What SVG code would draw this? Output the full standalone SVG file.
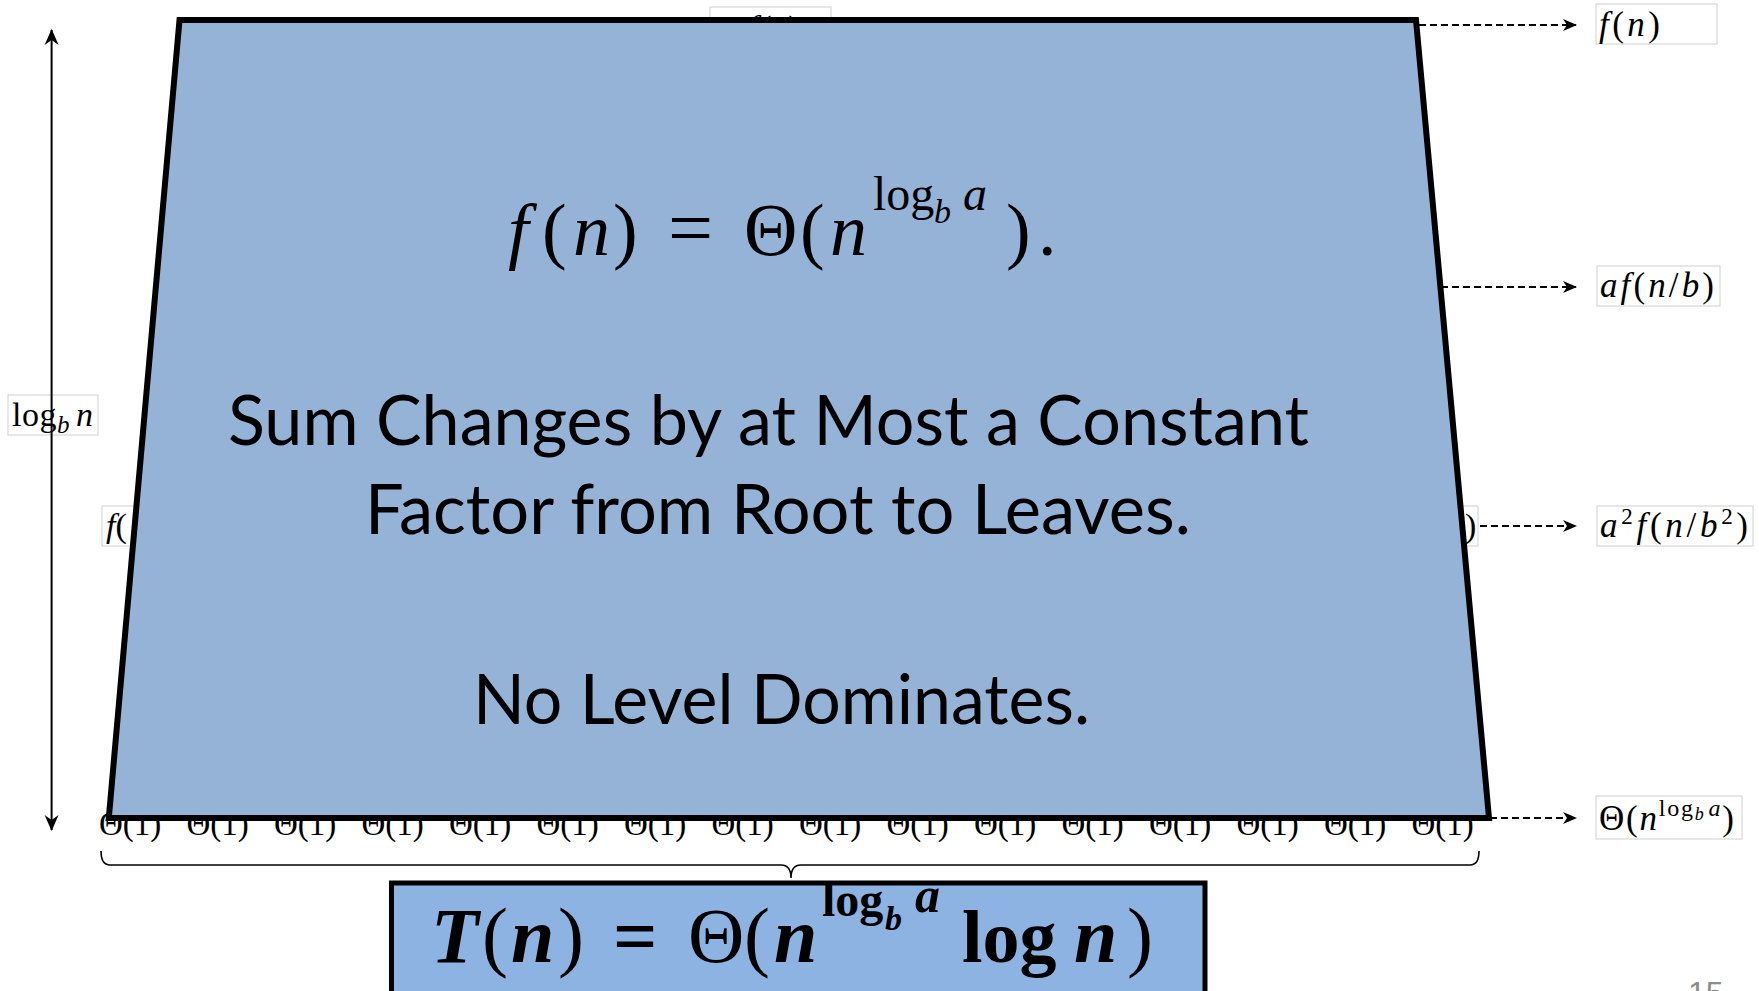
<svg xmlns="http://www.w3.org/2000/svg" width="1759" height="991" viewBox="0 0 1759 991">
<defs>
<style>
.m{font-family:"Liberation Serif","DejaVu Serif",serif;fill:#000}
.i{font-style:italic}
.lbl{fill:#fff;stroke:#d0d0d0;stroke-width:1}
.dash{stroke:#000;stroke-width:2;stroke-dasharray:7 4;fill:none}
.big{font-family:Lato,"Open Sans",sans-serif;font-size:70px;fill:#000}
.bd{font-weight:bold}
</style>
<marker id="ah" viewBox="0 0 14 12" refX="13" refY="6" markerWidth="14" markerHeight="12" markerUnits="userSpaceOnUse" orient="auto-start-reverse">
<path d="M0,0 L14,6 L0,12 L4,6 z" fill="#000"/>
</marker>
<marker id="ah2" viewBox="0 0 16 16" refX="15" refY="8" markerWidth="16" markerHeight="16" markerUnits="userSpaceOnUse" orient="auto-start-reverse">
<path d="M0,1 L16,8 L0,15 L5,8 z" fill="#000"/>
</marker>
</defs>
<rect width="1759" height="991" fill="#fff"/>

<!-- hidden level labels behind the trapezoid -->
<g id="hidden-top">
<rect class="lbl" x="710" y="7" width="121" height="40"/>
<text class="m i" x="748" y="39" font-size="34">f(n)</text>
</g>
<g id="hidden-level2">
<rect class="lbl" x="102" y="506" width="1376" height="40"/>
<text class="m" x="106" y="537" font-size="34"><tspan class="i">f</tspan>(</text>
<text class="m" x="1465" y="537" font-size="34">)</text>
</g>

<g id="leaves">
<text class="m" y="835" font-size="33">
<tspan x="99">Θ(1)</tspan><tspan x="186.5">Θ(1)</tspan><tspan x="274">Θ(1)</tspan><tspan x="361.5">Θ(1)</tspan><tspan x="449">Θ(1)</tspan><tspan x="536.5">Θ(1)</tspan><tspan x="624">Θ(1)</tspan><tspan x="711.5">Θ(1)</tspan><tspan x="799">Θ(1)</tspan><tspan x="886.5">Θ(1)</tspan><tspan x="974">Θ(1)</tspan><tspan x="1061.5">Θ(1)</tspan><tspan x="1149">Θ(1)</tspan><tspan x="1236.5">Θ(1)</tspan><tspan x="1324">Θ(1)</tspan><tspan x="1411.5">Θ(1)</tspan>
</text>
</g>

<g id="trapezoid">
<polygon points="179.5,20 1416,20 1489,818 108.8,818" fill="#95B3D7" stroke="#000" stroke-width="6" stroke-linejoin="miter"/>
<g id="formula-top">
<text class="m i" x="508" y="255" font-size="74">f</text>
<text class="m" x="542" y="255" font-size="74">(</text>
<text class="m i" x="573" y="255" font-size="74">n</text>
<text class="m" x="613" y="255" font-size="74">)</text>
<text class="m" x="668" y="255" font-size="80">=</text>
<text class="m" x="744" y="255" font-size="74">Θ</text>
<text class="m" x="800" y="255" font-size="74">(</text>
<text class="m i" x="830" y="255" font-size="74">n</text>
<text class="m" x="873" y="210" font-size="48">log</text>
<text class="m i" x="934" y="223" font-size="34">b</text>
<text class="m i" x="963" y="210" font-size="48">a</text>
<text class="m" x="1006" y="255" font-size="74">)</text>
<text class="m" x="1038" y="255" font-size="74">.</text>
</g>
<text class="big" x="228" y="445" textLength="1081" lengthAdjust="spacingAndGlyphs">Sum Changes by at Most a Constant</text>
<text class="big" x="365" y="534" textLength="826" lengthAdjust="spacingAndGlyphs">Factor from Root to Leaves.</text>
<text class="big" x="473" y="724" textLength="617" lengthAdjust="spacingAndGlyphs">No Level Dominates.</text>
</g>

<g id="height-label">
<rect class="lbl" x="8" y="395" width="90" height="40"/>
<text class="m" x="12" y="426" font-size="34" textLength="81" lengthAdjust="spacing">log<tspan class="i" font-size="25" dy="7">b</tspan><tspan class="i" dy="-7" dx="6">n</tspan></text>
</g>

<g id="label-f">
<rect class="lbl" x="1596" y="4" width="121" height="40"/>
<text class="m" x="1599" y="36" font-size="35" textLength="61" lengthAdjust="spacing"><tspan class="i">f</tspan>(<tspan class="i">n</tspan>)</text>
</g>
<g id="label-af">
<rect class="lbl" x="1597" y="266" width="123" height="40"/>
<text class="m" x="1600" y="297" font-size="35" textLength="114" lengthAdjust="spacing"><tspan class="i">af</tspan>(<tspan class="i">n</tspan>/<tspan class="i">b</tspan>)</text>
</g>
<g id="label-a2f">
<rect class="lbl" x="1597" y="506" width="156" height="40"/>
<text class="m" x="1600" y="537" font-size="35" textLength="148" lengthAdjust="spacing"><tspan class="i">a</tspan><tspan font-size="23" dy="-13">2</tspan><tspan class="i" dy="13">f</tspan>(<tspan class="i">n</tspan>/<tspan class="i">b</tspan><tspan font-size="23" dy="-13">2</tspan><tspan dy="13">)</tspan></text>
</g>
<g id="label-theta">
<rect class="lbl" x="1596" y="796" width="146" height="43"/>
<text class="m" x="1599" y="830" font-size="35" textLength="135" lengthAdjust="spacing">Θ(<tspan class="i">n</tspan><tspan font-size="24" dy="-14">log</tspan><tspan class="i" font-size="18" dy="4">b</tspan><tspan class="i" font-size="24" dy="-4" dx="3">a</tspan><tspan dy="14">)</tspan></text>
</g>

<g id="connectors">
<line x1="51.6" y1="830" x2="51.6" y2="30" stroke="#000" stroke-width="2" marker-start="url(#ah2)" marker-end="url(#ah2)"/>
<line class="dash" x1="1419" y1="25" x2="1576" y2="25" marker-end="url(#ah)"/>
<line class="dash" x1="1441" y1="287" x2="1576" y2="287" marker-end="url(#ah)"/>
<line class="dash" x1="1480" y1="526" x2="1576" y2="526" marker-end="url(#ah)"/>
<line class="dash" x1="1490" y1="818" x2="1576" y2="818" marker-end="url(#ah)"/>
<path d="M101,851 Q101,865 110,865 L781,865 Q791,865 791,878 Q791,865 801,865 L1470,865 Q1479,865 1479,851" fill="none" stroke="#000" stroke-width="1.6"/>
</g>

<g id="result">
<rect x="391.5" y="883" width="813.5" height="120" fill="#8DB3E2" stroke="#000" stroke-width="5"/>
<text class="m i bd" x="431" y="962" font-size="78">T</text>
<text class="m" x="482" y="962" font-size="78">(</text>
<text class="m i bd" x="511" y="962" font-size="78">n</text>
<text class="m" x="558" y="962" font-size="78">)</text>
<text class="m bd" x="613" y="962" font-size="78">=</text>
<text class="m" x="688" y="962" font-size="78">Θ</text>
<text class="m" x="744" y="962" font-size="78">(</text>
<text class="m i bd" x="774" y="962" font-size="78">n</text>
<text class="m bd" x="822" y="916" font-size="48">log</text>
<text class="m i bd" x="885" y="930" font-size="34">b</text>
<text class="m i bd" x="915" y="912" font-size="50">a</text>
<text class="m bd" x="962" y="962" font-size="74">log</text>
<text class="m i bd" x="1074" y="962" font-size="78">n</text>
<text class="m" x="1127" y="962" font-size="78">)</text>
</g>

<text x="1688" y="1004" font-family="Liberation Sans, sans-serif" font-size="32" fill="#8c8c8c">15</text>
</svg>
